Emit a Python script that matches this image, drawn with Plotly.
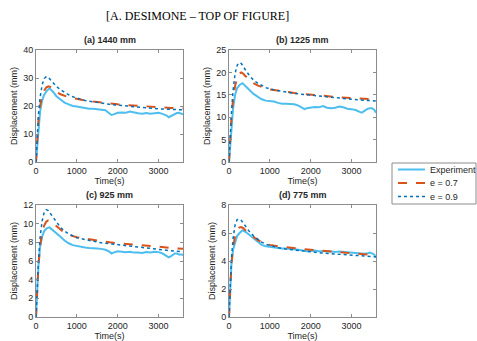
import plotly.graph_objects as go

# ---------------- data ----------------
titles = ["(a) 1440 mm", "(b) 1225 mm", "(c) 925 mm", "(d) 775 mm"]
y_max = [40, 25, 12, 8]
y_dtick = [10, 5, 2, 2]
series_names = ["Experiment", "e = 0.7", "e = 0.9"]

t_exp = [0, 30, 60, 100, 150, 200, 260, 330, 420, 500, 600, 700, 800, 900, 1000, 1100, 1200, 1300,
         1400, 1500, 1600, 1700, 1800, 1850, 1900, 2000, 2100, 2200, 2300, 2400, 2500, 2600, 2700,
         2800, 2900, 3000, 3100, 3200, 3250, 3300, 3400, 3450, 3500, 3560, 3600]
exp_a = [0, 6, 12, 18, 22, 24, 25.3, 26.3, 25, 23.5, 22.3, 21.2, 20.6, 20.0, 19.8, 19.5, 19.3, 19.0,
         19.0, 18.8, 18.7, 18.5, 17.3, 16.8, 17.0, 17.6, 17.7, 17.6, 18.0, 17.6, 17.4, 17.2, 17.5,
         17.2, 17.5, 17.6, 17.2, 16.6, 16.0, 16.4, 17.3, 17.5, 17.6, 17.2, 17.0]
exp_b = [0, 4, 8, 12, 15, 16.5, 17.2, 17.6, 16.8, 16.0, 15.2, 14.6, 14.0, 13.7, 13.6, 13.5, 13.2, 13.0,
         13.0, 12.9, 12.9, 12.6, 12.0, 11.8, 12.0, 12.2, 12.3, 12.2, 12.5, 12.1, 12.0, 12.1, 12.4,
         12.2, 11.9, 11.8, 11.6, 11.2, 11.0, 11.3, 11.9, 12.0, 12.0, 11.6, 11.0]
exp_c = [0, 3, 5.5, 7.5, 8.6, 9.2, 9.5, 9.6, 9.3, 9.0, 8.6, 8.2, 7.9, 7.7, 7.6, 7.5, 7.45, 7.4,
         7.4, 7.35, 7.3, 7.2, 7.0, 6.8, 6.9, 7.05, 7.0, 6.95, 7.0, 6.9, 6.9, 6.85, 6.95,
         6.9, 7.0, 6.95, 6.8, 6.5, 6.4, 6.5, 6.8, 6.8, 6.7, 6.7, 6.65]
exp_d = [0, 2.2, 3.8, 4.8, 5.4, 5.8, 6.0, 6.2, 6.05, 5.85, 5.6, 5.35, 5.15, 5.05, 5.0, 4.95, 4.95, 4.9,
         4.9, 4.88, 4.85, 4.8, 4.75, 4.72, 4.7, 4.72, 4.75, 4.7, 4.72, 4.7, 4.68, 4.65, 4.68,
         4.66, 4.62, 4.6, 4.58, 4.55, 4.52, 4.52, 4.55, 4.6, 4.55, 4.45, 4.25]

t_mod = [0, 30, 60, 100, 150, 200, 250, 300, 350, 400, 500, 600, 700, 800, 900, 1000, 1200, 1400,
         1600, 1800, 2000, 2250, 2500, 2750, 3000, 3300, 3600]
e07_a = [0, 9, 15, 20, 23.5, 25.5, 26.6, 27.0, 26.8, 26.2, 25.0, 24.2, 23.6, 23.1, 22.8, 22.5, 22.0, 21.6,
         21.2, 20.9, 20.6, 20.3, 20.0, 19.8, 19.6, 19.3, 19.1]
e09_a = [0, 10, 17, 23, 27.5, 29.8, 30.5, 30.3, 29.5, 28.5, 27.0, 25.8, 24.8, 24.0, 23.3, 22.8, 22.0, 21.5,
         21.0, 20.6, 20.3, 19.9, 19.6, 19.3, 19.0, 18.8, 18.6]
e07_b = [0, 6, 10, 14, 17, 18.8, 19.7, 20.0, 19.7, 19.2, 18.3, 17.6, 17.1, 16.7, 16.4, 16.2, 15.9, 15.6,
         15.4, 15.2, 15.0, 14.8, 14.6, 14.4, 14.3, 14.1, 14.0]
e09_b = [0, 6.5, 11, 16, 19.8, 21.6, 22.2, 22.0, 21.4, 20.6, 19.3, 18.3, 17.6, 17.0, 16.6, 16.3, 15.9, 15.6,
         15.3, 15.1, 14.9, 14.6, 14.4, 14.2, 14.0, 13.8, 13.6]
e07_c = [0, 3, 5.5, 7.6, 9.0, 9.8, 10.2, 10.35, 10.3, 10.1, 9.7, 9.3, 9.0, 8.8, 8.65, 8.55, 8.4, 8.25,
         8.1, 8.0, 7.9, 7.8, 7.7, 7.6, 7.5, 7.4, 7.3]
e09_c = [0, 3.3, 6.0, 8.5, 10.3, 11.2, 11.5, 11.4, 11.1, 10.7, 10.1, 9.6, 9.2, 8.9, 8.7, 8.5, 8.3, 8.1,
         7.95, 7.85, 7.75, 7.6, 7.5, 7.35, 7.2, 7.1, 7.0]
e07_d = [0, 2.2, 3.8, 5.0, 5.8, 6.2, 6.38, 6.42, 6.35, 6.2, 5.95, 5.7, 5.5, 5.35, 5.25, 5.15, 5.05, 4.97,
         4.9, 4.85, 4.8, 4.75, 4.68, 4.6, 4.55, 4.48, 4.42]
e09_d = [0, 2.4, 4.2, 5.6, 6.6, 6.95, 7.0, 6.9, 6.7, 6.45, 6.1, 5.8, 5.55, 5.35, 5.2, 5.1, 4.95, 4.85,
         4.78, 4.7, 4.65, 4.58, 4.52, 4.46, 4.42, 4.36, 4.3]

exp_all = [exp_a, exp_b, exp_c, exp_d]
e07_all = [e07_a, e07_b, e07_c, e07_d]
e09_all = [e09_a, e09_b, e09_c, e09_d]
x_ticks = [0, 1000, 2000, 3000]

# ---------------- layout ----------------
W, H = 477, 341
boxes = [(36, 183, 50, 162), (229, 376, 50, 162), (36, 183, 205, 317), (229, 376, 205, 317)]

fig = go.Figure()
c_exp, c_07, c_09 = "#4DBEEE", "#D95319", "#0072BD"
styles = [dict(color=c_exp, width=2), dict(color=c_07, width=2, dash="dash"),
          dict(color=c_09, width=1.5, dash="dot")]
axis_col = "#8c8c8c"
txt_col = "#262626"
sans = "Liberation Sans, Arial"
tick_font = dict(family=sans, size=9, color=txt_col)

for i in range(4):
    xa = "x" if i == 0 else f"x{i+1}"
    ya = "y" if i == 0 else f"y{i+1}"
    for k, (tx, ty) in enumerate([(t_exp, exp_all[i]), (t_mod, e07_all[i]), (t_mod, e09_all[i])]):
        fig.add_trace(go.Scatter(x=tx, y=ty, mode="lines", name=series_names[k],
                                 line=styles[k], xaxis=xa, yaxis=ya, showlegend=False))

    l, r, t, b = boxes[i]
    xdom = [l / W, r / W]
    ydom = [1 - b / H, 1 - t / H]
    common = dict(showline=True, linecolor=axis_col, linewidth=1, mirror="ticks", ticks="inside",
                  ticklen=3, tickcolor=axis_col, showgrid=False, zeroline=False, tickfont=tick_font,
                  automargin=False)
    fig.layout[("xaxis" if i == 0 else f"xaxis{i+1}")] = dict(
        domain=xdom, range=[0, 3600], tickvals=x_ticks, anchor=ya, ticklabelstandoff=0,
        title=dict(text="Time(s)", font=dict(family=sans, size=9, color=txt_col), standoff=0), **common)
    fig.layout[("yaxis" if i == 0 else f"yaxis{i+1}")] = dict(
        domain=ydom, range=[0, y_max[i]], dtick=y_dtick[i], anchor=xa,
        title=dict(text="Displacement (mm)", font=dict(family=sans, size=9, color=txt_col), standoff=4),
        **common)
    fig.add_annotation(text=f"<b>{titles[i]}</b>", x=(l + r) / 2 / W, y=1 - (t - 3) / H,
                       xref="paper", yref="paper", xanchor="center", yanchor="bottom", showarrow=False,
                       font=dict(family=sans, size=9, color=txt_col))

fig.add_annotation(text="[A. DESIMONE – TOP OF FIGURE]", x=197 / W, y=1 - 16 / H, xref="paper", yref="paper",
                   xanchor="center", yanchor="middle", showarrow=False,
                   font=dict(family="Liberation Serif, Times New Roman", size=12, color="#000000"))

# custom compact legend (box, line samples, labels)
lg_l, lg_r, lg_t, lg_b = 392, 476, 163, 204
fig.add_shape(type="rect", xref="paper", yref="paper", x0=lg_l / W, x1=lg_r / W,
              y0=1 - lg_b / H, y1=1 - lg_t / H, line=dict(color=axis_col, width=1), fillcolor="white")
for k, yy in enumerate([169.5, 183, 196.5]):
    fig.add_shape(type="line", xref="paper", yref="paper", x0=398 / W, x1=425 / W,
                  y0=1 - yy / H, y1=1 - yy / H, line=styles[k])
    fig.add_annotation(text=series_names[k], x=428 / W, y=1 - yy / H, xref="paper", yref="paper",
                       xanchor="left", yanchor="middle", showarrow=False,
                       font=dict(family=sans, size=9, color=txt_col))

fig.update_layout(
    width=W, height=H, margin=dict(l=0, r=0, t=0, b=0, autoexpand=False),
    paper_bgcolor="white", plot_bgcolor="white", showlegend=False,
)

fig.write_html("out.html", config={"displayModeBar": False},
               post_script="document.body.style.margin='0';document.body.style.overflow='hidden';")
